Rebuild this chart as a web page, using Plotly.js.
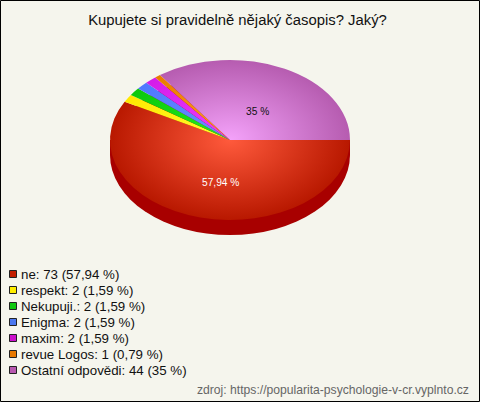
<!DOCTYPE html>
<html><head><meta charset="utf-8">
<script src="https://cdn.plot.ly/plotly-3.0.1.min.js"></script>
<style>html,body{margin:0;padding:0;background:#f5f5ed}#c{width:480px;height:402px}</style>
</head><body><div id="c"></div>
<script>
const titleText = 'Kupujete si pravidelně nějaký časopis? Jaký?';
const sourceText = 'zdroj: https://popularita-psychologie-v-cr.vyplnto.cz';
const categories = ['ne','respekt','Nekupuji.','Enigma','maxim','revue Logos','Ostatní odpovědi'];
const counts = [73,2,2,2,2,1,44];
const percents = ['57,94 %','1,59 %','1,59 %','1,59 %','1,59 %','0,79 %','35 %'];
const sliceInner = ['#ff5a3c','#ffff30','#20f020','#6a90ff','#f040ff','#ffa020','#f4a2fa'];
const sliceOuter = ['#b81800','#ffe800','#0cc80c','#5078ff','#d41ce8','#e87c00','#b65cb0'];
const swatches = ['#c41e00','#ffee00','#10c810','#4c78f0','#cc10cc','#e87800','#b858b0'];
const W=480,H=402, CX=230, CY=140, RX=120, RY=80, DEPTH=15;
const px=x=>x/W, py=y=>1-y/H;
const FONT='Arial, "Liberation Sans", sans-serif';

const annotations=[], shapes=[];
shapes.push({type:'circle',xref:'paper',yref:'paper',layer:'below',x0:px(CX-RX),x1:px(CX+RX),y0:py(CY+DEPTH+RY),y1:py(CY+DEPTH-RY),fillcolor:'#a80000',line:{width:0}});
shapes.push({type:'rect',xref:'paper',yref:'paper',layer:'below',x0:px(CX-RX),x1:px(CX+RX),y0:py(CY+DEPTH),y1:py(CY),fillcolor:'#a80000',line:{width:0}});
shapes.push({type:'rect',xref:'paper',yref:'paper',layer:'above',x0:px(0.5),x1:px(W-0.5),y0:py(H-0.5),y1:py(0.5),line:{width:1,color:'#000'}});
categories.forEach((c,i)=>{
  const y=274+i*16;
  shapes.push({type:'rect',xref:'paper',yref:'paper',x0:px(9.5),x1:px(16.5),y0:py(y+3.5),y1:py(y-3.5),fillcolor:swatches[i],line:{width:1,color:'#222'}});
  annotations.push({xref:'paper',yref:'paper',x:px(20),y:py(y+0.5),xanchor:'left',yanchor:'middle',showarrow:false,borderpad:0,
    text:`${c}: ${counts[i]} (${percents[i]})`,font:{family:FONT,size:13.3,color:'#111'}});
});
annotations.push({xref:'paper',yref:'paper',x:px(200.5),y:py(182),showarrow:false,xanchor:'left',yanchor:'middle',borderpad:0,text:percents[0],font:{family:FONT,size:10.2,color:'#fff'}});
annotations.push({xref:'paper',yref:'paper',x:px(245),y:py(111),showarrow:false,xanchor:'left',yanchor:'middle',borderpad:0,text:percents[6],font:{family:FONT,size:10.2,color:'#111'}});
annotations.push({xref:'paper',yref:'paper',x:px(470),y:py(390),showarrow:false,xanchor:'right',yanchor:'middle',borderpad:0,text:sourceText,font:{family:FONT,size:12.15,color:'#666'}});

const trace={type:'pie',values:counts,labels:categories,sort:false,direction:'clockwise',rotation:90,
  textinfo:'none',hoverinfo:'label+value',marker:{colors:swatches,line:{width:0}},
  domain:{x:[px(CX-RX),px(CX+RX)],y:[py(CY+120),py(CY-120)]}};
const layout={width:W,height:H,margin:{l:0,r:0,t:0,b:0},paper_bgcolor:'#f5f5ed',showlegend:false,
  title:{text:titleText,x:px(237.5),xanchor:'center',y:py(20),yanchor:'middle',font:{family:FONT,size:14.85,color:'#111'}},
  shapes,annotations};
Plotly.newPlot('c',[trace],layout,{displayModeBar:false}).then(()=>{
  const NS='http://www.w3.org/2000/svg';
  const svg=document.querySelector('#c .main-svg');
  let defs=svg.querySelector('defs');
  const g=document.querySelector('#c .pielayer .trace');
  g.setAttribute('transform',`translate(0,${CY}) scale(1,${RY/RX}) translate(0,${-CY})`);
  document.querySelectorAll('#c .pielayer .slice path.surface').forEach((p,i)=>{
    const gr=document.createElementNS(NS,'radialGradient');
    gr.setAttribute('id','sl'+i);gr.setAttribute('gradientUnits','userSpaceOnUse');
    gr.setAttribute('cx',CX);gr.setAttribute('cy',CY);gr.setAttribute('r',RX);
    [[0,sliceInner[i]],[1,sliceOuter[i]]].forEach(([o,col])=>{
      const s=document.createElementNS(NS,'stop');s.setAttribute('offset',o);s.setAttribute('stop-color',col);gr.appendChild(s);});
    defs.appendChild(gr);
    p.style.fill=`url(#sl${i})`;
  });
});
</script></body></html>
